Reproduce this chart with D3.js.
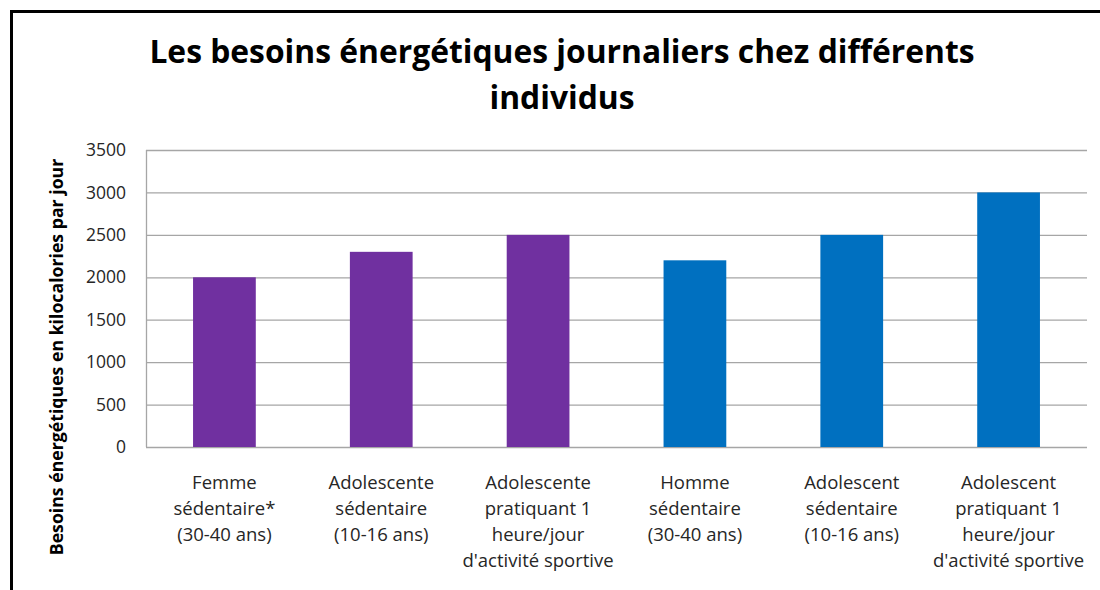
<!DOCTYPE html>
<html><head><meta charset="utf-8">
<script src="https://cdn.jsdelivr.net/npm/d3@7"></script>
<style>body{margin:0;background:#fff;}svg{display:block;}</style>
</head><body>
<svg id="c" width="1100" height="590"></svg>
<script>
const categories = [
  ["Femme","sédentaire*","(30-40 ans)"],
  ["Adolescente","sédentaire","(10-16 ans)"],
  ["Adolescente","pratiquant 1","heure/jour","d'activité sportive"],
  ["Homme","sédentaire","(30-40 ans)"],
  ["Adolescent","sédentaire","(10-16 ans)"],
  ["Adolescent","pratiquant 1","heure/jour","d'activité sportive"]
];
const values = [2000, 2300, 2500, 2200, 2500, 3000];
const colors = ["#7030A0","#7030A0","#7030A0","#0070C0","#0070C0","#0070C0"];
const yTicks = [0,500,1000,1500,2000,2500,3000,3500];
const titleLines = ["Les besoins énergétiques journaliers chez différents","individus"];
const yTitle = "Besoins énergétiques en kilocalories par jour";

const svg = d3.select("#c");
const font = "'Open Sans', sans-serif";
// frame
svg.append("path").attr("d","M11.5,590 V11.5 H1100").attr("fill","none").attr("stroke","#000").attr("stroke-width",3);

const m = {l:146, r:1087, t:150, b:447};
const x = d3.scaleBand().domain(d3.range(values.length)).range([m.l, m.r]).padding(0);
const y = d3.scaleLinear().domain([0,3500]).range([m.b, m.t]);

// gridlines
svg.append("g").selectAll("line").data(yTicks).join("line")
  .attr("x1",m.l).attr("x2",m.r).attr("y1",d=>y(d)+0.5).attr("y2",d=>y(d)+0.5)
  .attr("stroke","#a6a6a6").attr("stroke-width",1.3);
svg.append("line").attr("x1",m.l+0.5).attr("x2",m.l+0.5).attr("y1",m.t).attr("y2",m.b)
  .attr("stroke","#a6a6a6").attr("stroke-width",1.3);

// y axis labels
const yAxis = d3.axisLeft(y).tickValues(yTicks).tickFormat(d3.format("d")).tickSize(0).tickPadding(20);
const ga = svg.append("g").attr("transform",`translate(${m.l},0)`).call(yAxis);
ga.select(".domain").remove();
ga.selectAll("text").attr("font-family",font).attr("font-size",17.5).attr("fill","#262626");

// bars
const bw = x.bandwidth()*0.4;
svg.append("g").selectAll("rect").data(values).join("rect")
  .attr("x",(d,i)=>x(i)+x.bandwidth()/2-bw/2).attr("width",bw)
  .attr("y",d=>y(d)).attr("height",d=>y(0)-y(d))
  .attr("fill",(d,i)=>colors[i]);

// x labels
const gx = svg.append("g");
categories.forEach((lines,i)=>{
  const t = gx.append("text").attr("x",x(i)+x.bandwidth()/2).attr("y",489)
    .attr("text-anchor","middle").attr("font-family",font).attr("font-size",18.5).attr("fill","#262626");
  lines.forEach((l,j)=>t.append("tspan").attr("x",x(i)+x.bandwidth()/2).attr("dy",j?26:0).text(l));
});

// title
titleLines.forEach((l,j)=>svg.append("text").attr("x",562).attr("y",63+j*46)
  .attr("text-anchor","middle").attr("font-family",font).attr("font-weight","bold")
  .attr("font-size",31.8).attr("fill","#000").text(l));

// y title
svg.append("text").attr("transform","translate(63,357) rotate(-90)")
  .attr("text-anchor","middle").attr("font-family",font).attr("font-weight","bold")
  .attr("font-size",17.7).attr("fill","#000").text(yTitle);
</script>
</body></html>
